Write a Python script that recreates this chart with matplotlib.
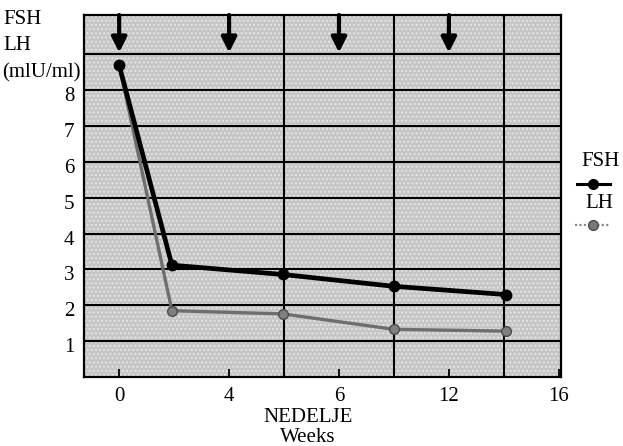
import matplotlib
matplotlib.use("Agg")
import matplotlib.pyplot as plt
from matplotlib.patches import Rectangle
from matplotlib.lines import Line2D
import matplotlib.transforms as mtransforms

# ---- data ----
x_tick_labels = ["0", "4", "6", "12", "16"]
x_tick_pos = [0, 1, 2, 3, 4]
x_points = [0, 0.48, 1.49, 2.5, 3.52]
fsh = [8.7, 3.12, 2.86, 2.53, 2.3]
lh = [8.7, 1.85, 1.76, 1.33, 1.28]
arrow_x = [0, 1, 2, 3]
y_ticks = [1, 2, 3, 4, 5, 6, 7, 8]
h_grid = [1, 2, 3, 4, 5, 6, 7, 8, 9]
v_grid = [1.5, 2.5, 3.5]

W, H = 623, 446
fig = plt.figure(figsize=(W / 100, H / 100), dpi=100)
plt.rcParams['font.family'] = ['Liberation Serif', 'DejaVu Serif']
FS = 15

L, R, T, B = 84, 561, 15, 377
ax = fig.add_axes([L / W, 1 - B / H, (R - L) / W, (B - T) / H])
ax.set_xlim(-0.32, 4.02)
ax.set_ylim(0, 10.1)

# halftone-like background
ax.set_facecolor('#c6c6c6')
ax.add_patch(Rectangle((0, 0), 1, 1, transform=ax.transAxes, facecolor='none',
                       edgecolor='#e6e6e6', hatch='....', linewidth=0, zorder=0))

for y in h_grid:
    ax.axhline(y, color='black', lw=1.5, zorder=1)
for x in v_grid:
    ax.axvline(x, color='black', lw=1.5, zorder=1)

# arrows
for x in arrow_x:
    ax.annotate('', xy=(x, 9.05), xytext=(x, 10.1),
                arrowprops=dict(arrowstyle='-|>,head_width=0.45,head_length=0.9',
                                color='black', lw=3, shrinkA=0, shrinkB=0),
                zorder=4, annotation_clip=False)

# series
ax.plot(x_points, lh, color='#6e6e6e', lw=2.4, marker='o', ms=7,
        markerfacecolor='#808080', markeredgecolor='#4a4a4a', zorder=3)
ax.plot(x_points, fsh, color='black', lw=3.4, marker='o', ms=7.5,
        markerfacecolor='black', zorder=3.5)

for s in ax.spines.values():
    s.set_linewidth(1.6)
    s.set_color('black')

ax.set_xticks(x_tick_pos)
ax.set_xticklabels(x_tick_labels, fontsize=FS)
ax.tick_params(axis='x', direction='in', length=6, width=1.3, pad=7)
ax.set_yticks(y_ticks)
ax.set_yticklabels([str(v) for v in y_ticks], fontsize=FS)
ax.tick_params(axis='y', length=0, pad=7)
offset = mtransforms.ScaledTranslation(0, -4 / 100, fig.dpi_scale_trans)
for lab in ax.get_yticklabels():
    lab.set_transform(lab.get_transform() + offset)

def ftext(px, py, s, **kw):
    fig.text(px / W, 1 - py / H, s, **kw)

# y axis label
ftext(3, 20, "FSH", fontsize=FS, va='center', ha='left')
ftext(3, 46, "LH", fontsize=FS, va='center', ha='left')
ftext(2, 73, "(mlU/ml)", fontsize=FS, va='center', ha='left')

# x axis label
ftext(308, 417, "NEDELJE", fontsize=FS, ha='center', va='center')
ftext(308, 438, "Weeks", fontsize=FS, ha='center', va='center')

# legend
ftext(601, 162, "FSH", fontsize=FS, ha='center', va='center')
ftext(599, 203, "LH", fontsize=FS, ha='center', va='center')
fig.add_artist(Line2D([577 / W, 610 / W], [1 - 184 / H, 1 - 184 / H], color='black', lw=2.2))
fig.add_artist(Line2D([593 / W], [1 - 184 / H], color='black', marker='o', ms=7, lw=0))
fig.add_artist(Line2D([575 / W, 610 / W], [1 - 225 / H, 1 - 225 / H], color='#8a8a8a', lw=1.6,
                      linestyle=(0, (1, 1))))
fig.add_artist(Line2D([593 / W], [1 - 225 / H], color='#7a7a7a', marker='o', ms=7, lw=0,
                      markeredgecolor='#4a4a4a'))

fig.savefig("out.png", dpi=100)
